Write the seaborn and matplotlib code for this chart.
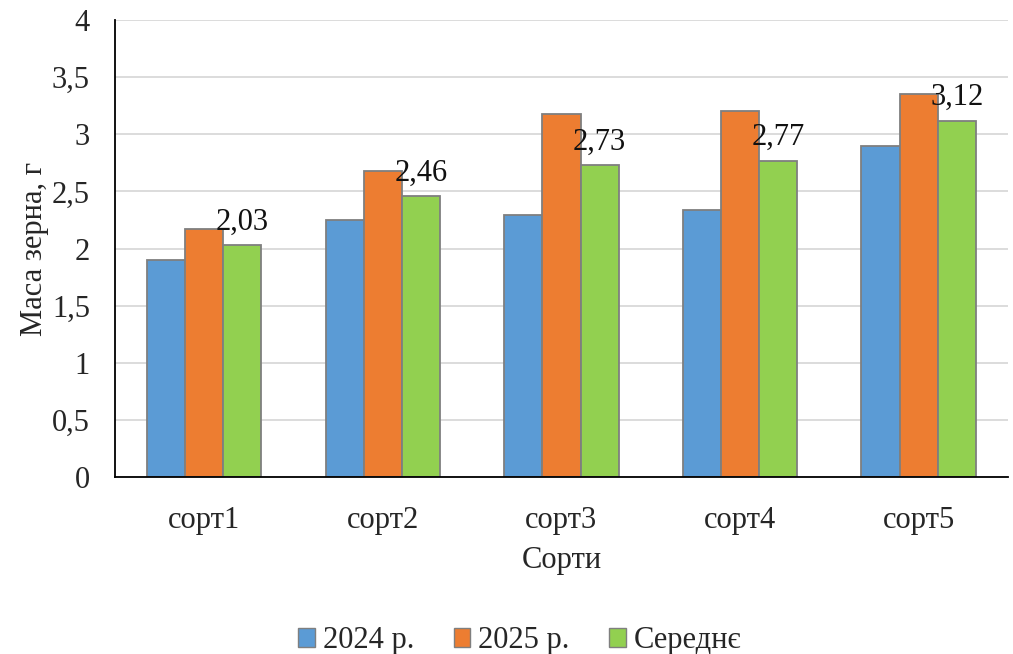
import matplotlib
matplotlib.use("Agg")
import matplotlib.pyplot as plt
import seaborn as sns
import pandas as pd

# Grain mass per variety
varieties = ["сорт1", "сорт2", "сорт3", "сорт4", "сорт5"]
series_names = ["2024 р.", "2025 р.", "Середнє"]
mass_2024 = [1.90, 2.25, 2.29, 2.34, 2.90]
mass_2025 = [2.17, 2.68, 3.18, 3.20, 3.35]
mass_mean = [2.03, 2.46, 2.73, 2.77, 3.12]
y_ticks = [0, 0.5, 1, 1.5, 2, 2.5, 3, 3.5, 4]
y_tick_labels = ["0", "0,5", "1", "1,5", "2", "2,5", "3", "3,5", "4"]

colors = ["#5B9BD5", "#ED7D31", "#92D050"]
FS = 22

df = pd.DataFrame({
    "Сорт": varieties * 3,
    "Серія": [s for s in series_names for _ in varieties],
    "Маса": mass_2024 + mass_2025 + mass_mean,
})

sns.set_theme(style="white")
plt.rcParams["font.family"] = ["Liberation Serif", "DejaVu Serif"]

fig = plt.figure(figsize=(10.13, 6.54), dpi=100)
ax = fig.add_axes([0.1135, 0.2706, 0.8815, 0.6988])

sns.barplot(data=df, x="Сорт", y="Маса", hue="Серія", hue_order=series_names,
            palette=colors, width=0.64, edgecolor="#7f7f7f", linewidth=1.3,
            saturation=1, ax=ax, legend=False)

# value labels above the mean bars
mean_container = ax.containers[2]
ax.bar_label(mean_container, labels=[f"{v:.2f}".replace(".", ",") for v in mass_mean],
             padding=6, fontsize=FS, color="#111111")

ax.set_ylim(0, 4)
ax.set_yticks(y_ticks)
ax.set_yticklabels(y_tick_labels, fontsize=FS)
ax.tick_params(axis="x", labelsize=FS, pad=21, length=0)
ax.tick_params(axis="y", length=0, pad=18)
ax.yaxis.grid(True, color="#d9d9d9", linewidth=1.3)
ax.set_axisbelow(True)
for side in ["top", "right"]:
    ax.spines[side].set_visible(False)
for side in ["left", "bottom"]:
    ax.spines[side].set_color("#000000")
    ax.spines[side].set_linewidth(1.3)

ax.set_xlabel("Сорти", fontsize=FS, labelpad=8)
ax.set_ylabel("Маса зерна, г", fontsize=FS, labelpad=2)

handles = [plt.Rectangle((0, 0), 1, 1, facecolor=c, edgecolor="#7f7f7f", linewidth=1)
           for c in colors]
fig.legend(handles, series_names, loc="lower center", bbox_to_anchor=(0.513, -0.044),
           ncol=3, frameon=False, fontsize=FS, handlelength=0.55, handleheight=0.55,
           handletextpad=0.25, columnspacing=1.3)

fig.savefig("out.png", dpi=100, facecolor="white")
